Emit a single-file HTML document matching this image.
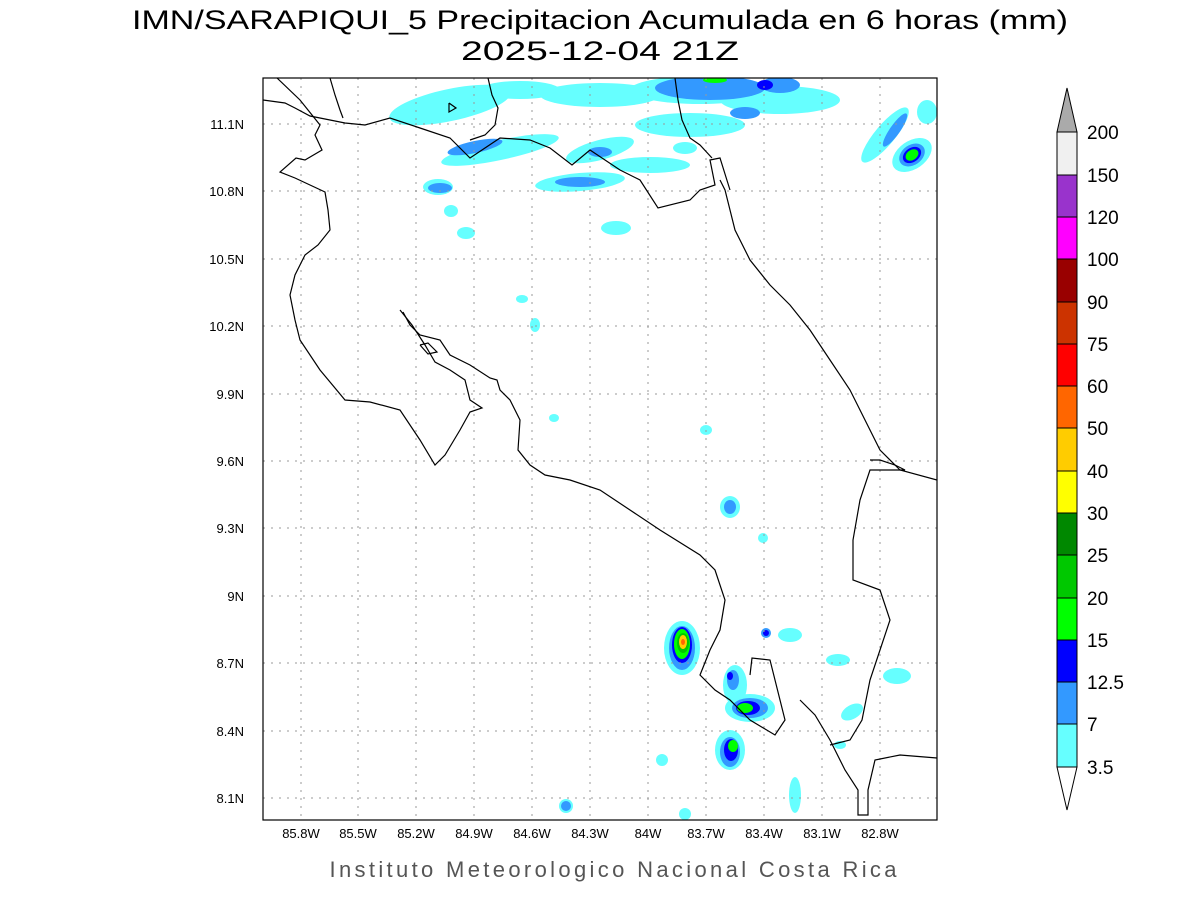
<!DOCTYPE html>
<html><head><meta charset="utf-8"><style>
body{margin:0;background:#fff;width:1200px;height:900px;overflow:hidden}
svg{display:block}
</style></head><body>
<svg width="1200" height="900" xmlns="http://www.w3.org/2000/svg" font-family="Liberation Sans, sans-serif">
<rect width="1200" height="900" fill="#fff"/>
<text x="600" y="29" text-anchor="middle" font-size="27" fill="#000" textLength="936" lengthAdjust="spacingAndGlyphs">IMN/SARAPIQUI_5 Precipitacion Acumulada en 6 horas (mm)</text>
<text x="600" y="60" text-anchor="middle" font-size="27" fill="#000" textLength="278" lengthAdjust="spacingAndGlyphs">2025-12-04 21Z</text>
<clipPath id="c"><rect x="263" y="78" width="674" height="742"/></clipPath>
<g clip-path="url(#c)">
<g fill="#66ffff">
<ellipse cx="450" cy="105" rx="62" ry="16" transform="rotate(-12 450 105)"/>
<ellipse cx="520" cy="90" rx="40" ry="9"/>
<ellipse cx="600" cy="95" rx="60" ry="12"/>
<ellipse cx="700" cy="90" rx="70" ry="14"/>
<ellipse cx="780" cy="100" rx="60" ry="14"/>
<ellipse cx="500" cy="150" rx="60" ry="10" transform="rotate(-12 500 150)"/>
<ellipse cx="600" cy="150" rx="35" ry="10" transform="rotate(-15 600 150)"/>
<ellipse cx="580" cy="182" rx="45" ry="9" transform="rotate(-5 580 182)"/>
<ellipse cx="650" cy="165" rx="40" ry="8"/>
<ellipse cx="690" cy="125" rx="55" ry="12"/>
<ellipse cx="438" cy="187" rx="15" ry="8"/>
<ellipse cx="451" cy="211" rx="7" ry="6"/>
<ellipse cx="466" cy="233" rx="9" ry="6"/>
<ellipse cx="616" cy="228" rx="15" ry="7"/>
<ellipse cx="685" cy="148" rx="12" ry="6"/>
<ellipse cx="885" cy="135" rx="35" ry="10" transform="rotate(-50 885 135)"/>
<ellipse cx="912" cy="155" rx="22" ry="14" transform="rotate(-35 912 155)"/>
<ellipse cx="927" cy="112" rx="10" ry="12"/>
<ellipse cx="522" cy="299" rx="6" ry="4"/>
<ellipse cx="535" cy="325" rx="5" ry="7"/>
<ellipse cx="554" cy="418" rx="5" ry="4"/>
<ellipse cx="706" cy="430" rx="6" ry="5"/>
<ellipse cx="730" cy="507" rx="10" ry="11"/>
<ellipse cx="763" cy="538" rx="5" ry="5"/>
<ellipse cx="682" cy="648" rx="18" ry="27"/>
<ellipse cx="735" cy="685" rx="12" ry="20"/>
<ellipse cx="750" cy="708" rx="25" ry="14"/>
<ellipse cx="730" cy="750" rx="15" ry="20"/>
<ellipse cx="790" cy="635" rx="12" ry="7"/>
<ellipse cx="838" cy="660" rx="12" ry="6"/>
<ellipse cx="897" cy="676" rx="14" ry="8"/>
<ellipse cx="852" cy="712" rx="12" ry="7" transform="rotate(-30 852 712)"/>
<ellipse cx="662" cy="760" rx="6" ry="6"/>
<ellipse cx="566" cy="806" rx="7" ry="7"/>
<ellipse cx="685" cy="814" rx="6" ry="6"/>
<ellipse cx="795" cy="795" rx="6" ry="18"/>
<ellipse cx="840" cy="745" rx="6" ry="4"/>
</g>
<g fill="#3399ff">
<ellipse cx="475" cy="147" rx="28" ry="6" transform="rotate(-12 475 147)"/>
<ellipse cx="580" cy="182" rx="25" ry="5"/>
<ellipse cx="600" cy="152" rx="12" ry="5"/>
<ellipse cx="440" cy="188" rx="12" ry="5"/>
<ellipse cx="710" cy="88" rx="55" ry="12"/>
<ellipse cx="745" cy="113" rx="15" ry="6"/>
<ellipse cx="780" cy="85" rx="20" ry="8"/>
<ellipse cx="895" cy="130" rx="20" ry="5" transform="rotate(-55 895 130)"/>
<ellipse cx="912" cy="155" rx="14" ry="10" transform="rotate(-35 912 155)"/>
<ellipse cx="682" cy="648" rx="13" ry="22"/>
<ellipse cx="733" cy="680" rx="6" ry="10"/>
<ellipse cx="750" cy="708" rx="18" ry="10"/>
<ellipse cx="730" cy="752" rx="10" ry="15"/>
<ellipse cx="730" cy="507" rx="6" ry="7"/>
<ellipse cx="766" cy="633" rx="5" ry="5"/>
<ellipse cx="566" cy="806" rx="5" ry="5"/>
</g>
<g fill="#0000ff">
<ellipse cx="912" cy="155" rx="10" ry="7" transform="rotate(-35 912 155)"/>
<ellipse cx="682" cy="645" rx="10" ry="18"/>
<ellipse cx="748" cy="708" rx="12" ry="7"/>
<ellipse cx="731" cy="750" rx="7" ry="11"/>
<ellipse cx="730" cy="676" rx="3" ry="4"/>
<ellipse cx="766" cy="633" rx="3" ry="3"/>
<ellipse cx="765" cy="85" rx="8" ry="5"/>
</g>
<g fill="#00ff00">
<ellipse cx="912" cy="155" rx="7" ry="5" transform="rotate(-35 912 155)"/>
<ellipse cx="682" cy="644" rx="8" ry="15"/>
<ellipse cx="745" cy="708" rx="8" ry="5"/>
<ellipse cx="733" cy="746" rx="5" ry="6"/>
<ellipse cx="715" cy="80" rx="12" ry="3"/>
</g>
<ellipse cx="683" cy="643" rx="6" ry="10" fill="#00c800"/>
<ellipse cx="683" cy="642" rx="4" ry="7" fill="#ffcc00"/>
<ellipse cx="683" cy="642" rx="2" ry="3" fill="#ff6600"/>
<g stroke="#999" stroke-dasharray="2,6" stroke-width="1">
<line x1="301" y1="78" x2="301" y2="820"/><line x1="358" y1="78" x2="358" y2="820"/><line x1="416" y1="78" x2="416" y2="820"/><line x1="474" y1="78" x2="474" y2="820"/><line x1="532" y1="78" x2="532" y2="820"/><line x1="590" y1="78" x2="590" y2="820"/><line x1="648" y1="78" x2="648" y2="820"/><line x1="706" y1="78" x2="706" y2="820"/><line x1="764" y1="78" x2="764" y2="820"/><line x1="822" y1="78" x2="822" y2="820"/><line x1="880" y1="78" x2="880" y2="820"/>
<line x1="263" y1="124" x2="937" y2="124"/><line x1="263" y1="191" x2="937" y2="191"/><line x1="263" y1="259" x2="937" y2="259"/><line x1="263" y1="326" x2="937" y2="326"/><line x1="263" y1="394" x2="937" y2="394"/><line x1="263" y1="461" x2="937" y2="461"/><line x1="263" y1="528" x2="937" y2="528"/><line x1="263" y1="596" x2="937" y2="596"/><line x1="263" y1="663" x2="937" y2="663"/><line x1="263" y1="731" x2="937" y2="731"/><line x1="263" y1="798" x2="937" y2="798"/>
</g>
<g fill="none" stroke="#000" stroke-width="1.2">
<polyline points="277,78 300,100 320,125 315,135 322,150 305,160 296,158 280,172 295,178 310,185 325,192 328,210 330,230 318,245 305,255 295,275 290,295 295,320 300,340 320,370 345,400 370,402 400,410 420,440 435,465 445,455 460,430 470,412 482,408 470,400 465,380 450,370 435,362 425,345 412,325 400,310"/>
<polyline points="403,312 410,325 420,335 440,340 450,355 470,365 490,378 497,380 500,390 510,400 520,420 518,450 530,465 545,475 570,480 600,490 630,510 660,530 700,555 715,570 725,600 720,630 710,650 700,675 715,690 730,700 750,720 775,735 785,720 780,700 770,660 752,658 750,675"/>
<polyline points="800,700 815,715 830,740 845,770 858,790 858,815 868,815 868,790 875,760 900,755 937,758"/>
<polyline points="720,180 725,190 735,230 750,260 770,285 790,305 810,330 830,360 850,390 860,410 870,430 880,450 900,470 937,480"/>
<polyline points="870,460 880,460 895,465 905,470 870,470 860,500 853,540 853,580 880,590 890,620 880,650 870,680 862,720 850,740 830,745"/>
<polyline points="263,100 285,103 295,108 310,116 330,120 345,123 365,125 390,118 420,128 450,138 470,158 500,138 530,140 550,148 572,165 590,150 620,170 640,180 658,208 690,200 700,190 715,185 710,160 720,158 730,190"/>
<polyline points="330,78 335,95 340,110 343,118"/>
<polyline points="488,78 492,95 498,108 495,125 485,135 470,140"/>
<polyline points="675,78 678,100 682,120 690,138 700,145 712,158"/>
<polyline points="449,103 456,108 449,112 449,103"/>
<polyline points="420,345 428,343 437,352 428,354 420,345"/>
</g>
</g>
<rect x="263" y="78" width="674" height="742" fill="none" stroke="#000" stroke-width="1.2"/>
<g font-size="13" fill="#000" text-anchor="middle">
<text x="301" y="838">85.8W</text><text x="358" y="838">85.5W</text><text x="416" y="838">85.2W</text><text x="474" y="838">84.9W</text><text x="532" y="838">84.6W</text><text x="590" y="838">84.3W</text><text x="648" y="838">84W</text><text x="706" y="838">83.7W</text><text x="764" y="838">83.4W</text><text x="822" y="838">83.1W</text><text x="880" y="838">82.8W</text>
</g>
<g font-size="13" fill="#000" text-anchor="end">
<text x="244" y="129">11.1N</text><text x="244" y="196">10.8N</text><text x="244" y="264">10.5N</text><text x="244" y="331">10.2N</text><text x="244" y="399">9.9N</text><text x="244" y="466">9.6N</text><text x="244" y="533">9.3N</text><text x="244" y="601">9N</text><text x="244" y="668">8.7N</text><text x="244" y="736">8.4N</text><text x="244" y="803">8.1N</text>
</g>
<text x="613" y="877" text-anchor="middle" font-size="22" fill="#555" textLength="567" lengthAdjust="spacing">Instituto Meteorologico Nacional Costa Rica</text>
<g stroke="#000" stroke-width="1">
<polygon points="1057,132 1067,88 1077,132" fill="#aaaaaa"/>
<rect x="1057" y="132" width="20" height="43" fill="#f0f0f0"/>
<rect x="1057" y="175" width="20" height="42" fill="#9933cc"/>
<rect x="1057" y="217" width="20" height="42" fill="#ff00ff"/>
<rect x="1057" y="259" width="20" height="43" fill="#990000"/>
<rect x="1057" y="302" width="20" height="42" fill="#cc3300"/>
<rect x="1057" y="344" width="20" height="42" fill="#ff0000"/>
<rect x="1057" y="386" width="20" height="42" fill="#ff6600"/>
<rect x="1057" y="428" width="20" height="43" fill="#ffcc00"/>
<rect x="1057" y="471" width="20" height="42" fill="#ffff00"/>
<rect x="1057" y="513" width="20" height="42" fill="#008800"/>
<rect x="1057" y="555" width="20" height="43" fill="#00c800"/>
<rect x="1057" y="598" width="20" height="42" fill="#00ff00"/>
<rect x="1057" y="640" width="20" height="42" fill="#0000ff"/>
<rect x="1057" y="682" width="20" height="42" fill="#3399ff"/>
<rect x="1057" y="724" width="20" height="43" fill="#66ffff"/>
<polygon points="1057,767 1067,810 1077,767" fill="#fff"/>
</g>
<g font-size="19" fill="#000">
<text x="1087" y="139">200</text><text x="1087" y="182">150</text><text x="1087" y="224">120</text><text x="1087" y="266">100</text><text x="1087" y="309">90</text><text x="1087" y="351">75</text><text x="1087" y="393">60</text><text x="1087" y="435">50</text><text x="1087" y="478">40</text><text x="1087" y="520">30</text><text x="1087" y="562">25</text><text x="1087" y="605">20</text><text x="1087" y="647">15</text><text x="1087" y="689">12.5</text><text x="1087" y="731">7</text><text x="1087" y="774">3.5</text>
</g>
</svg>
</body></html>
